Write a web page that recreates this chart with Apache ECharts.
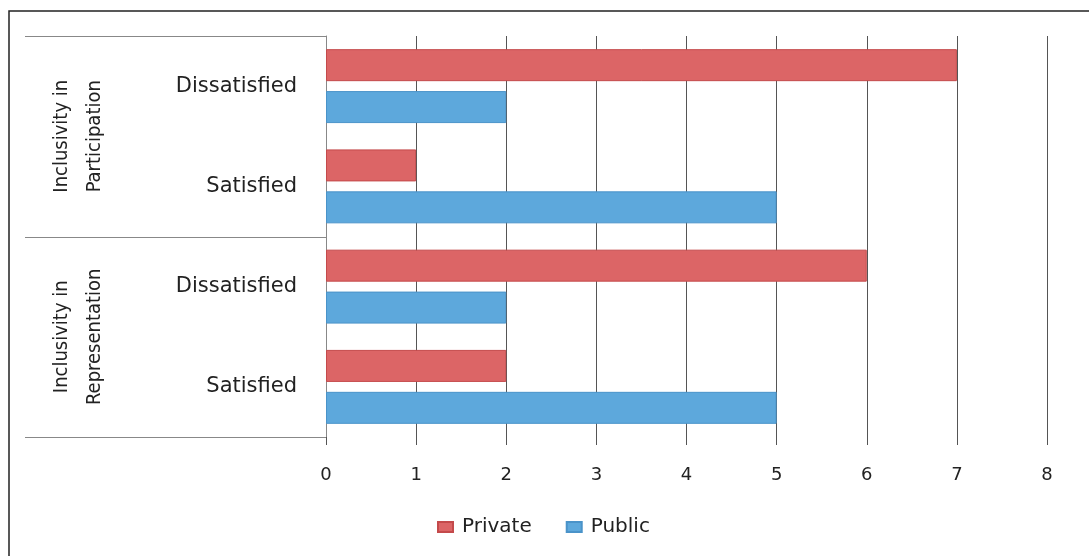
<!DOCTYPE html>
<html>
<head>
<meta charset="utf-8">
<title>Inclusivity satisfaction by sector</title>
<script src="https://cdn.jsdelivr.net/npm/echarts@6/dist/echarts.min.js"></script>
<style>
  html, body { margin: 0; padding: 0; background: #ffffff; }
  #chart { width: 1089px; height: 556px; }
</style>
</head>
<body>
<div id="chart"></div>
<script>
// Response levels (top to bottom) and the group each belongs to
const categories = ['Dissatisfied', 'Satisfied', 'Dissatisfied', 'Satisfied'];
const groups = ['Inclusivity in\nParticipation', 'Inclusivity in\nRepresentation'];
const groupSize = 2;

// Number of respondents per sector
const privateValues = [7, 1, 6, 2];
const publicValues = [2, 5, 2, 5];

// Value axis ticks
const xTicks = [0, 1, 2, 3, 4, 5, 6, 7, 8];

const chart = echarts.init(document.getElementById('chart'));

const font = '"DejaVu Sans", "Open Sans", sans-serif';
const narrowFont = '"Liberation Sans Narrow", "DejaVu Sans Condensed", sans-serif';

const option = {
  animation: false,
  backgroundColor: '#ffffff',
  grid: { left: 326, right: 42, top: 36, bottom: 119, containLabel: false },
  legend: {
    left: 437,
    top: 517,
    padding: 0,
    itemWidth: 15,
    itemHeight: 10,
    itemGap: 34,
    icon: 'rect',
    textStyle: { fontFamily: font, fontSize: 20, color: '#222', padding: [0, 0, 0, 4] },
    data: ['Private', 'Public']
  },
  xAxis: {
    type: 'value',
    min: xTicks[0],
    max: xTicks[xTicks.length - 1],
    interval: 1,
    axisLine: { show: false },
    axisTick: { show: true, length: 8, lineStyle: { color: '#555', width: 1 } },
    splitLine: { show: true, lineStyle: { color: '#555', width: 1 } },
    axisLabel: { margin: 29, fontFamily: font, fontSize: 18, color: '#222' }
  },
  yAxis: {
    type: 'category',
    inverse: true,
    data: categories,
    axisLine: { show: true, lineStyle: { color: '#888', width: 1 } },
    axisTick: { show: false },
    axisLabel: { margin: 29, fontFamily: font, fontSize: 21, color: '#222' }
  },
  series: [
    {
      name: 'Private',
      type: 'bar',
      data: privateValues,
      barWidth: 32,
      barGap: '31%',
      itemStyle: { color: '#dc6566', borderColor: '#c44a4b', borderWidth: 1 }
    },
    {
      name: 'Public',
      type: 'bar',
      data: publicValues,
      barWidth: 32,
      itemStyle: { color: '#5da8dc', borderColor: '#4a93c9', borderWidth: 1 }
    }
  ]
};

chart.setOption(option);

// Group separators and rotated group labels, positioned from the category axis
function drawGroups() {
  const c0 = chart.convertToPixel({ yAxisIndex: 0 }, 0);
  const c1 = chart.convertToPixel({ yAxisIndex: 0 }, 1);
  const band = c1 - c0;
  const axisX = chart.convertToPixel({ xAxisIndex: 0 }, 0);
  const boxLeft = 25;
  const elements = [];

  // outer frame (runs past the right and bottom edges of the page)
  elements.push({
    type: 'rect',
    shape: { x: 9, y: 11, width: 1100, height: 560 },
    style: { fill: null, stroke: '#222', lineWidth: 1.5 },
    silent: true
  });

  for (let g = 0; g <= groups.length; g++) {
    const y = Math.round(c0 - band / 2 + g * groupSize * band) + 0.5;
    elements.push({
      type: 'line',
      shape: { x1: boxLeft, y1: y, x2: axisX, y2: y },
      style: { stroke: '#888', lineWidth: 1 },
      silent: true
    });
  }

  groups.forEach(function (label, g) {
    const mid = c0 - band / 2 + (g * groupSize + groupSize / 2) * band;
    elements.push({
      type: 'text',
      x: 78,
      y: mid,
      rotation: Math.PI / 2,
      style: {
        text: label,
        fontFamily: narrowFont,
        fontSize: 20,
        lineHeight: 33,
        fill: '#222',
        align: 'center',
        verticalAlign: 'middle'
      },
      silent: true
    });
  });

  chart.setOption({ graphic: { elements: elements } });
}

drawGroups();
</script>
</body>
</html>
